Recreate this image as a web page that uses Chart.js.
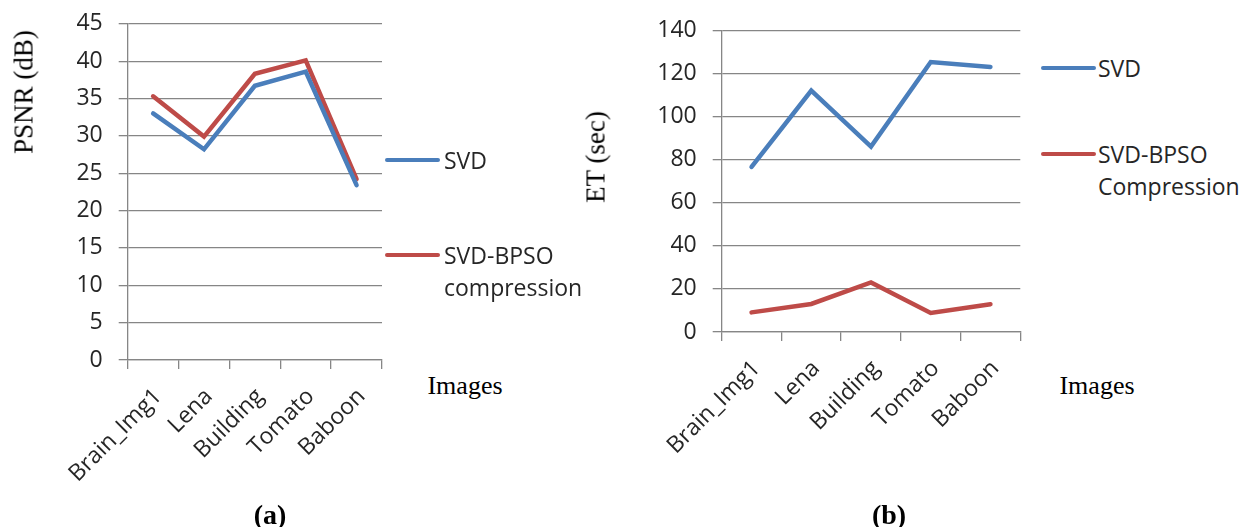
<!DOCTYPE html>
<html>
<head>
<meta charset="utf-8">
<script src="https://cdn.jsdelivr.net/npm/chart.js@4/dist/chart.umd.min.js"></script>
<style>
  html, body { margin:0; padding:0; background:#fff; }
  body { width:1250px; height:527px; position:relative; overflow:hidden; }
  canvas { position:absolute; }
  .t { position:absolute; white-space:nowrap; color:#000; font-family:"Liberation Serif","Times New Roman",serif; }
  .rot { transform: translate(-50%,-50%) rotate(-90deg); }
  .ctr { transform: translate(-50%,-50%); }
  .leg { position:absolute; font-family:"Open Sans",sans-serif; font-size:23px; color:#262626; line-height:32px; white-space:nowrap; }
  .legline { position:absolute; height:4px; border-radius:2px; }
</style>
</head>
<body>
<canvas id="ca" width="400" height="533" style="left:0;top:-6px;width:400px;height:533px"></canvas>
<canvas id="cb" width="460" height="527" style="left:580px;top:0;width:460px;height:527px"></canvas>

<div class="t rot" style="left:24px;top:92px;font-size:27px">PSNR (dB)</div>
<div class="t rot" style="left:596px;top:157px;font-size:27px">ET (sec)</div>
<div class="t ctr" style="left:465px;top:386px;font-size:26px">Images</div>
<div class="t ctr" style="left:1097px;top:386px;font-size:26px">Images</div>
<div class="t ctr" style="left:270px;top:515px;font-size:28px;font-weight:bold">(a)</div>
<div class="t ctr" style="left:889px;top:515px;font-size:28px;font-weight:bold">(b)</div>

<div class="legline" style="left:385px;top:158px;width:55px;background:#4a7ebb"></div>
<div class="leg" style="left:444px;top:144px">SVD</div>
<div class="legline" style="left:385px;top:253px;width:55px;background:#be4b48"></div>
<div class="leg" style="left:444px;top:239px">SVD-BPSO<br>compression</div>

<div class="legline" style="left:1041px;top:66px;width:55px;background:#4a7ebb"></div>
<div class="leg" style="left:1098px;top:52px">SVD</div>
<div class="legline" style="left:1041px;top:152px;width:55px;background:#be4b48"></div>
<div class="leg" style="left:1098px;top:138px">SVD-BPSO<br>Compression</div>

<script>
const categories = ["Brain_Img1", "Lena", "Building", "Tomato", "Baboon"];
const psnrSVD  = [33.0, 28.2, 36.7, 38.6, 23.4];
const psnrBPSO = [35.3, 29.9, 38.3, 40.1, 24.2];
const etSVD    = [76.6, 112.0, 86.0, 125.3, 123.0];
const etBPSO   = [9.1, 13.0, 23.0, 8.8, 12.9];
const psnrTicks = {min: 0, max: 45, step: 5};
const etTicks   = {min: 0, max: 140, step: 20};

const BLUE = '#4a7ebb', RED = '#be4b48', GRID = '#868686', TXT = '#262626';
const tickFont = {family: "'Open Sans', sans-serif", size: 23};

function makeChart(id, svd, bpso, yt, yWidth, xHeight, padTop, padRight) {
  return new Chart(document.getElementById(id), {
    type: 'line',
    data: {
      labels: categories,
      datasets: [
        {label: 'SVD', data: svd, borderColor: BLUE, backgroundColor: BLUE, borderWidth: 4.5, pointRadius: 0, tension: 0, borderCapStyle: 'round'},
        {label: 'SVD-BPSO', data: bpso, borderColor: RED, backgroundColor: RED, borderWidth: 4.5, pointRadius: 0, tension: 0, borderCapStyle: 'round'}
      ]
    },
    options: {
      responsive: false,
      animation: false,
      devicePixelRatio: 1,
      layout: {padding: {top: padTop, right: padRight, left: 0, bottom: 0}},
      plugins: {legend: {display: false}, tooltip: {enabled: false}},
      scales: {
        x: {
          type: 'category',
          offset: true,
          grid: {offset: true, drawOnChartArea: false, drawTicks: true, tickLength: 9, color: GRID, lineWidth: 1.3},
          border: {color: GRID, width: 1.3},
          ticks: {font: tickFont, color: TXT, maxRotation: 45, minRotation: 45, padding: 14, labelOffset: 5},
          afterFit: s => { s.height = xHeight; }
        },
        y: {
          min: yt.min, max: yt.max,
          grid: {color: GRID, lineWidth: 1.3, tickLength: 9},
          border: {color: GRID, width: 1.3},
          ticks: {stepSize: yt.step, font: tickFont, color: TXT, padding: 16},
          afterFit: s => { s.width = yWidth; }
        }
      }
    }
  });
}

makeChart('ca', psnrSVD, psnrBPSO, psnrTicks, 127.7, 167, 29.8, 18);
makeChart('cb', etSVD, etBPSO, etTicks, 141.7, 195, 30.3, 19.7);
</script>
</body>
</html>
